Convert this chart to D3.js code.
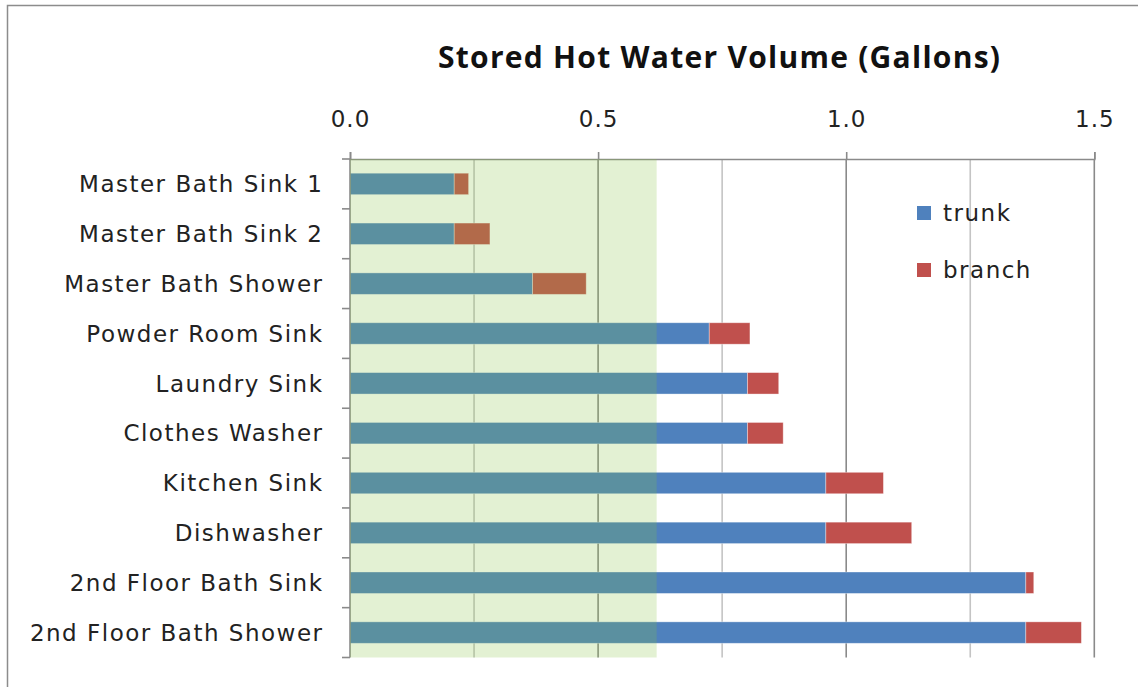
<!DOCTYPE html>
<html>
<head>
<meta charset="utf-8">
<script src="https://cdn.jsdelivr.net/npm/d3@7"></script>
<style>
  body { margin: 0; background: #fff; }
  svg { display: block; }
</style>
</head>
<body>
<svg id="chart" width="1138" height="687"></svg>
<script>
const categories = ["Master Bath Sink 1","Master Bath Sink 2","Master Bath Shower","Powder Room Sink","Laundry Sink","Clothes Washer","Kitchen Sink","Dishwasher","2nd Floor Bath Sink","2nd Floor Bath Shower"];
const trunk  = [0.210, 0.210, 0.368, 0.724, 0.801, 0.801, 0.959, 0.959, 1.362, 1.362];
const branch = [0.029, 0.072, 0.108, 0.082, 0.063, 0.072, 0.116, 0.173, 0.016, 0.112];
const seriesNames = ["trunk", "branch"];
const seriesColors = ["#4F81BD", "#C0504D"];
const xTicks = [0, 0.5, 1.0, 1.5];
const gridValues = [0.25, 0.5, 0.75, 1.0, 1.25, 1.5];
const highlightRange = [0, 0.618];
const titleText = "Stored Hot Water Volume (Gallons)";

(function () {
const svg = d3.select("#chart");
const pL = 350, pR = 1094.3, pT = 159, pB = 657.5;
const labelFont = "DejaVu Sans, sans-serif";

// outer border
svg.append("rect").attr("x", 7.5).attr("y", 5.5).attr("width", 1140).attr("height", 700)
  .attr("fill", "none").attr("stroke", "#8c8c8c").attr("stroke-width", 1.5);

const x = d3.scaleLinear().domain([0, 1.5]).range([pL, pR]);
const y = d3.scaleBand().domain(categories).range([pT, pB]).paddingInner(0.57).paddingOuter(0.285);
const yb = d3.scaleBand().domain(categories).range([pT, pB]);

// gridlines
svg.append("g").selectAll("line").data(gridValues).join("line")
  .attr("x1", d => x(d)).attr("x2", d => x(d))
  .attr("y1", pT).attr("y2", pB)
  .attr("stroke", d => (Math.abs(d * 2 - Math.round(d * 2)) < 1e-6) ? "#8a8a8a" : "#c4c4c4")
  .attr("stroke-width", 1.6);

// stacked data
const stackData = categories.map((c, i) => ({cat: c, trunk: trunk[i], branch: branch[i]}));
const stacked = d3.stack().keys(seriesNames)(stackData);

svg.append("g").selectAll("g").data(stacked).join("g")
  .attr("fill", (d, i) => seriesColors[i])
  .selectAll("rect").data(d => d).join("rect")
  .attr("x", d => x(d[0]))
  .attr("width", d => x(d[1]) - x(d[0]))
  .attr("y", d => y(d.data.cat))
  .attr("height", y.bandwidth())
  .attr("stroke", "rgba(255,255,255,0.45)").attr("stroke-width", 0.8);

// axes (top + left)
const xAxis = d3.axisTop(x).tickValues(xTicks).tickFormat(d3.format(".1f")).tickSize(7).tickPadding(25);
const gx = svg.append("g").attr("transform", `translate(0,${pT})`).call(xAxis);
gx.select(".domain").attr("stroke", "#8a8a8a").attr("stroke-width", 1.6);
gx.selectAll(".tick line").attr("stroke", "#8a8a8a").attr("stroke-width", 1.6);
gx.selectAll(".tick text").attr("font-family", labelFont).attr("font-size", 23)
  .attr("letter-spacing", "1px").attr("fill", "#222");

// left axis: ticks at band boundaries
const boundaries = d3.range(categories.length + 1).map(i => pT + i * yb.step());
svg.append("line").attr("x1", pL).attr("x2", pL).attr("y1", pT).attr("y2", pB)
  .attr("stroke", "#8a8a8a").attr("stroke-width", 1.6);
svg.append("g").selectAll("line").data(boundaries).join("line")
  .attr("x1", pL - 8).attr("x2", pL).attr("y1", d => d).attr("y2", d => d)
  .attr("stroke", "#8a8a8a").attr("stroke-width", 1.6);

// highlight overlay
svg.append("rect")
  .attr("x", x(highlightRange[0])).attr("width", x(highlightRange[1]) - x(highlightRange[0]))
  .attr("y", pT).attr("height", pB - pT)
  .attr("fill", "rgb(132,194,66)").attr("fill-opacity", 0.23);

// category labels
svg.append("g").selectAll("text").data(categories).join("text")
  .attr("x", 323.5).attr("y", d => yb(d) + yb.bandwidth() / 2)
  .attr("dy", "0.36em").attr("text-anchor", "end")
  .attr("font-family", labelFont).attr("font-size", 23).attr("letter-spacing", "1.5px").attr("fill", "#222")
  .text(d => d);

// title
svg.append("text").attr("x", 719).attr("y", 68).attr("text-anchor", "middle")
  .attr("font-family", "Open Sans, sans-serif").attr("font-weight", "bold").attr("font-size", 30)
  .attr("textLength", 562).attr("lengthAdjust", "spacing")
  .attr("fill", "#111").text(titleText);

// legend
const lg = svg.append("g").selectAll("g").data(seriesNames).join("g")
  .attr("transform", (d, i) => `translate(917,${206 + i * 57})`);
lg.append("rect").attr("width", 14).attr("height", 14).attr("fill", (d, i) => seriesColors[i]);
lg.append("text").attr("x", 26).attr("y", 7).attr("dy", "0.36em")
  .attr("font-family", labelFont).attr("font-size", 23).attr("letter-spacing", "1.5px").attr("fill", "#222")
  .text(d => d);
})();
</script>
</body>
</html>
